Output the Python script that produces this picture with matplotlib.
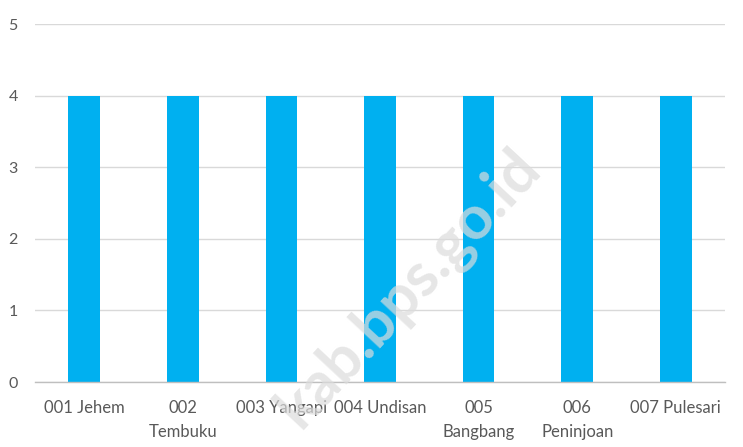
import matplotlib
matplotlib.use("Agg")
import matplotlib.pyplot as plt

categories = ["001 Jehem", "002\nTembuku", "003 Yangapi", "004 Undisan",
              "005\nBangbang", "006\nPeninjoan", "007 Pulesari"]
values = [4, 4, 4, 4, 4, 4, 4]
yticks = [0, 1, 2, 3, 4, 5]

plt.rcParams['font.family'] = ['Lato', 'DejaVu Sans']

fig = plt.figure(figsize=(7.43, 4.47), dpi=100)
ax = fig.add_axes([0.047, 0.1454, 0.929, 0.8006])

x = range(len(categories))
ax.bar(x, values, width=0.32, color="#00B0F0", zorder=2)

ax.set_xlim(-0.5, len(categories) - 0.5)
ax.set_ylim(0, 5)
ax.set_yticks(yticks)
ax.set_xticks(list(x))
ax.set_xticklabels(categories, linespacing=1.6)
ax.tick_params(axis='both', length=0, labelcolor="#595959")
ax.tick_params(axis='x', pad=13, labelsize=12)
ax.tick_params(axis='y', pad=19, labelsize=11.5)
for lab in ax.get_yticklabels():
    lab.set_horizontalalignment('left')
for lab in ax.get_xticklabels():
    lab.set_verticalalignment('top')

ax.grid(True, axis='y', color="#D9D9D9", linewidth=1, zorder=0)
for s in ["top", "right", "left"]:
    ax.spines[s].set_visible(False)
ax.spines["bottom"].set_color("#BFBFBF")
ax.spines["bottom"].set_linewidth(1)

# watermark
fig.text(0.55, 0.355, "kab.bps.go.id", rotation=47, fontsize=44, fontweight='bold',
         color="#DCDCDC", alpha=0.7, ha='center', va='center', zorder=5)

fig.savefig("out.png", dpi=100)
